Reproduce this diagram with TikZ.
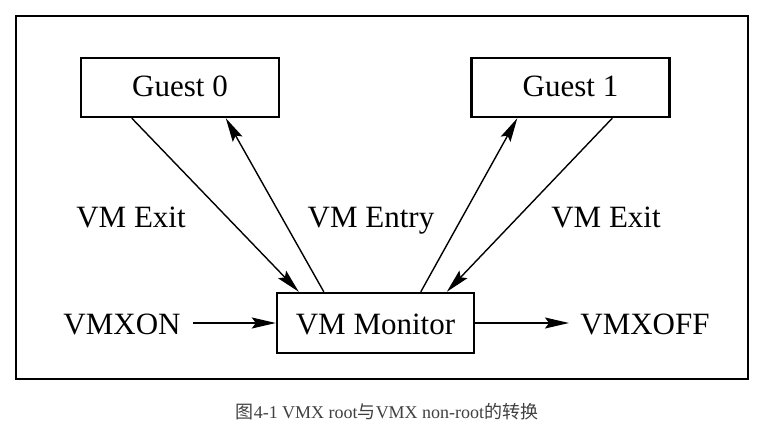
\documentclass[tikz,border=0pt]{standalone}
\usepackage{fontspec}
\setmainfont{Liberation Serif}
\newfontfamily\cjk{Noto Sans CJK SC}
\usetikzlibrary{arrows.meta}
\tikzset{
  box/.style={draw, line width=2.4pt, minimum width=198pt, minimum height=59pt, inner sep=0pt, font=\fontsize{31}{36}\selectfont},
  lbl/.style={font=\fontsize{31}{36}\selectfont, inner sep=0pt, anchor=base},
  conn/.style={line width=1.4pt, -{Stealth[length=24pt,width=11pt,inset=4pt]}},
}
\begin{document}
\begin{tikzpicture}[x=1pt,y=1pt]
\useasboundingbox (0,0) rectangle (764,429);
\draw[line width=1.6pt] (16,50) rectangle (748,413);
\node[box] (g0) at (180,341.5) {};
\node[lbl] (g0t) at (180,332) {Guest 0};
\node[box] (g1) at (570.5,341.5) {};
\node[lbl] (g1t) at (570.5,332) {Guest 1};
\node[box, minimum width=197pt, minimum height=60pt] (mon) at (375.5,106) {};
\node[lbl] (mont) at (375.5,94) {VM Monitor};
\node[lbl] (on) at (122,94) {VMXON};
\node[lbl] (off) at (645,94) {VMXOFF};
\node[lbl] (ex0) at (131,201) {VM Exit};
\node[lbl] (en) at (371,201) {VM Entry};
\node[lbl] (ex1) at (606,201) {VM Exit};
\coordinate (g0a) at ([xshift=52pt]g0.south west);
\coordinate (g0b) at ([xshift=146pt]g0.south west);
\coordinate (g1a) at ([xshift=47pt]g1.south west);
\coordinate (g1b) at ([xshift=142pt]g1.south west);
\coordinate (ma) at ([xshift=23pt]mon.north west);
\coordinate (mb) at ([xshift=48pt]mon.north west);
\coordinate (mc) at ([xshift=145pt]mon.north west);
\coordinate (md) at ([xshift=171pt]mon.north west);
\draw[conn] (g0a) -- (ma);
\draw[conn] (mb) -- (g0b);
\draw[conn] (mc) -- (g1a);
\draw[conn] (g1b) -- (md);
\coordinate (onr) at (193,106);
\coordinate (offl) at (569,106);
\draw[conn] (onr) -- (mon.west);
\draw[conn] (mon.east) -- (offl);
\node[font=\fontsize{18}{20}\selectfont, text=black!75, inner sep=0pt] (cap) at (387,17) {{\cjk 图}4-1 VMX root{\cjk 与}VMX non-root{\cjk 的转换}};
\end{tikzpicture}
\end{document}
